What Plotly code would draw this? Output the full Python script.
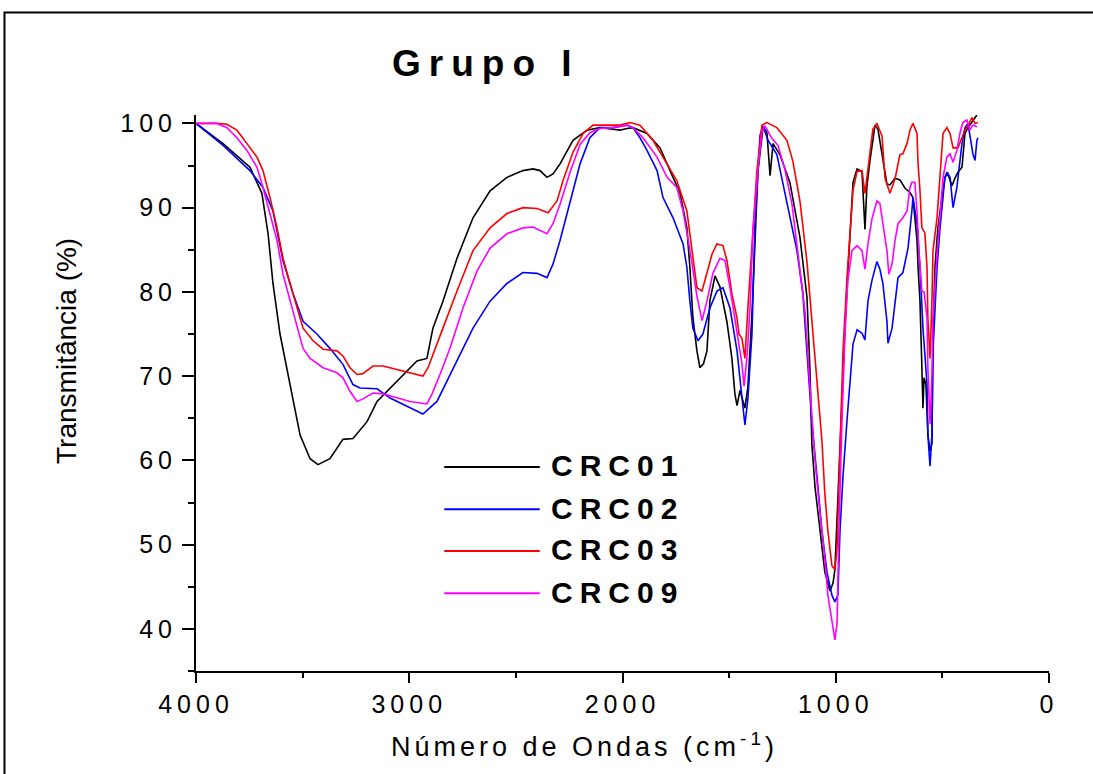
import plotly.graph_objects as go

# espectros FTIR (numero de onda cm-1, transmitancia %)
crc01 = [(4000, 100), (3873, 97.6), (3747, 94.8), (3691, 91.7), (3662, 86.9), (3639, 81), (3606, 75),
         (3559, 69), (3512, 63), (3465, 60.2), (3428, 59.5), (3372, 60.2), (3311, 62.5), (3264, 62.6),
         (3198, 64.6), (3151, 67), (3090, 68.6), (3011, 70.6), (2964, 71.8), (2917, 72.1), (2889, 75.7),
         (2842, 78.9), (2776, 84), (2701, 88.8), (2621, 92), (2542, 93.6), (2467, 94.4), (2420, 94.6),
         (2387, 94.4), (2354, 93.6), (2326, 94), (2293, 95.2), (2232, 98), (2167, 99.2), (2106, 99.5),
         (2073, 99.4), (2012, 99.2), (1979, 99.4), (1951, 99.5), (1885, 98.8), (1824, 97.1), (1777, 94.4),
         (1730, 91.7), (1698, 87.6), (1684, 82.9), (1670, 77), (1651, 73), (1637, 71), (1620, 71.5),
         (1604, 73), (1590, 79), (1566, 81.9), (1543, 80.6), (1510, 76.4), (1487, 72.1), (1473, 67.9),
         (1463, 66.5), (1449, 68.3), (1426, 66.2), (1412, 68.7), (1393, 77.3), (1379, 85.7), (1365, 94.3),
         (1341, 99.5), (1323, 99), (1308, 93.8), (1294, 97.6), (1262, 96.3), (1215, 93), (1168, 86.5),
         (1135, 79.4), (1121, 70.8), (1112, 61.9), (1097, 56.8), (1074, 51.7), (1051, 46.7), (1027, 44.5),
         (1013, 45.4), (1004, 47), (990, 56), (971, 68.7), (957, 75.5), (943, 82.4), (919, 93), (900, 94.6),
         (877, 94.3), (863, 87.4), (854, 92.5), (840, 95.5), (816, 99.8), (802, 99.3), (779, 95.5),
         (760, 92.8), (746, 92.7), (722, 93.5), (699, 93.3), (675, 92.3), (652, 91.8), (638, 91.2),
         (629, 88.8), (619, 86.1), (614, 82.9), (605, 78.9), (596, 71), (591, 66.2), (586, 69.8), (577, 69),
         (568, 63.1), (558, 61.1), (549, 62), (544, 75), (535, 82.9), (521, 87.6), (502, 91.2), (488, 93.6),
         (474, 94), (455, 92.6), (441, 93.5), (427, 94.2), (408, 94.8), (394, 98.8), (380, 99.5),
         (357, 100.4), (338, 101)]

crc02 = [(4000, 100), (3873, 97.4), (3747, 94.4), (3686, 92.4), (3639, 89.6), (3592, 83.7), (3545, 79.8),
         (3498, 76.5), (3433, 75), (3372, 73.3), (3311, 71.4), (3264, 69), (3231, 68.6), (3151, 68.5),
         (3090, 67.4), (3011, 66.4), (2936, 65.5), (2870, 67), (2823, 69.4), (2776, 71.8), (2701, 75.7),
         (2621, 78.9), (2542, 81), (2467, 82.3), (2401, 82.2), (2354, 81.7), (2326, 83.3), (2293, 86.1),
         (2246, 90.8), (2199, 95.2), (2153, 98.3), (2106, 99.5), (2045, 99.5), (1979, 99.8), (1951, 99.5),
         (1918, 98.3), (1885, 96.8), (1838, 94.4), (1810, 91.2), (1763, 88.8), (1716, 85.7), (1698, 82.9),
         (1684, 78.9), (1670, 75.7), (1646, 74.2), (1623, 75), (1590, 78.1), (1557, 80.1), (1529, 80.5),
         (1496, 78.1), (1463, 73), (1449, 69.8), (1435, 67), (1426, 64.2), (1412, 67.3), (1393, 75),
         (1379, 88), (1355, 98.6), (1341, 99.7), (1318, 98), (1276, 96.3), (1248, 93), (1215, 89.2),
         (1182, 84.9), (1154, 79.8), (1135, 73), (1112, 64.5), (1088, 58.1), (1065, 51.7), (1041, 46.7),
         (1018, 44), (1004, 43.2), (990, 44), (980, 51.7), (966, 58.1), (948, 64.5), (933, 69.5),
         (919, 73.8), (900, 75.5), (877, 75.1), (863, 74.3), (849, 78.9), (830, 81.4), (807, 83.6),
         (793, 82.7), (779, 81), (760, 76.5), (755, 73.9), (736, 75.7), (722, 78.9), (708, 81.7),
         (685, 82.3), (661, 85.2), (643, 89.6), (638, 91.2), (619, 88.1), (605, 82.9), (591, 75.7),
         (582, 73), (572, 69), (568, 63.1), (558, 59.3), (549, 63), (544, 73), (525, 82.9), (511, 87.6),
         (488, 93.6), (479, 94.2), (464, 93.6), (450, 90), (432, 92.4), (408, 97.6), (394, 99.5),
         (380, 100), (357, 96.4), (347, 95.6), (338, 98), (333, 98.3)]

crc03 = [(4000, 100), (3902, 100), (3855, 99.9), (3808, 99.2), (3761, 97.6), (3714, 96), (3686, 94.4),
         (3653, 91.2), (3620, 87.6), (3592, 84), (3559, 81), (3526, 78.1), (3498, 75.7), (3451, 74.2),
         (3404, 73.2), (3339, 73), (3311, 72.4), (3278, 71), (3245, 70.2), (3217, 70.3), (3170, 71.2),
         (3123, 71.2), (3058, 70.8), (2997, 70.4), (2936, 70), (2912, 71), (2889, 72.6), (2842, 75.7),
         (2776, 80.1), (2701, 84.9), (2621, 87.6), (2542, 89.3), (2467, 90), (2401, 89.9), (2349, 89.4),
         (2307, 90.8), (2279, 93.2), (2232, 96.6), (2185, 98.8), (2138, 99.8), (2059, 99.8), (2012, 99.8),
         (1965, 100.1), (1918, 99.8), (1857, 98), (1791, 95.2), (1745, 93.2), (1698, 89.6), (1674, 85),
         (1651, 80.5), (1627, 80.1), (1604, 82.1), (1580, 84.5), (1557, 85.7), (1529, 85.5), (1510, 83.7),
         (1487, 79.8), (1463, 76.9), (1454, 75), (1440, 74.5), (1426, 72.1), (1412, 78.1), (1393, 85.7),
         (1370, 94.3), (1346, 99.8), (1323, 100.1), (1276, 99.5), (1229, 98), (1201, 95.5), (1168, 90.8),
         (1135, 83.6), (1112, 76.4), (1088, 68.7), (1065, 62.4), (1051, 56), (1037, 51.7), (1018, 47.5),
         (1004, 47), (994, 49.6), (980, 60.2), (966, 73), (948, 81.4), (933, 86.5), (919, 92.1),
         (900, 94.3), (877, 94.4), (863, 91.7), (849, 94.6), (826, 99.3), (807, 100), (783, 98.5),
         (769, 93.5), (746, 91.7), (722, 93.4), (699, 96.3), (685, 96.4), (666, 97.6), (652, 99.2),
         (638, 100), (619, 98.8), (614, 95.2), (605, 92), (596, 87.6), (582, 87), (572, 82.9), (568, 76.9),
         (558, 72.1), (549, 78.9), (544, 84.9), (525, 88.8), (511, 93.6), (497, 98.8), (479, 99.5),
         (464, 98.8), (450, 97.1), (427, 97.1), (408, 98.3), (394, 99.2), (380, 99.8), (361, 100.7),
         (347, 100), (333, 100.1)]

crc09 = [(4000, 100), (3902, 100), (3855, 99.5), (3808, 98.3), (3761, 96.8), (3714, 94.8), (3686, 92.4),
         (3653, 89.3), (3620, 86.1), (3592, 82.1), (3559, 78.9), (3526, 75.7), (3498, 73.3), (3465, 72.1),
         (3404, 71), (3339, 70.4), (3311, 69.8), (3278, 68.2), (3245, 67), (3217, 67.3), (3170, 68),
         (3123, 67.9), (3058, 67.4), (2997, 67), (2917, 66.7), (2893, 67.9), (2856, 70.2), (2809, 73.3),
         (2748, 78.1), (2682, 82.5), (2621, 85.2), (2542, 86.9), (2467, 87.6), (2420, 87.7), (2354, 86.9),
         (2326, 88.1), (2293, 90.4), (2246, 94.2), (2199, 97.5), (2153, 98.9), (2106, 99.4), (2045, 99.5),
         (1979, 99.8), (1951, 99.5), (1904, 98.3), (1838, 96), (1791, 93.6), (1745, 92.4), (1716, 89.6),
         (1684, 85), (1651, 79.5), (1627, 76.6), (1604, 78.9), (1576, 82.2), (1543, 84), (1519, 83.7),
         (1496, 80.5), (1473, 76.7), (1458, 74), (1440, 71.5), (1430, 68.8), (1416, 72.3), (1402, 78.1),
         (1388, 87.4), (1365, 94.5), (1346, 99), (1332, 99.7), (1299, 98.2), (1271, 97.4), (1238, 94.5),
         (1205, 90.4), (1177, 84.8), (1144, 77.6), (1121, 68.7), (1098, 60.2), (1074, 53.8), (1051, 48.3),
         (1037, 44), (1018, 40.6), (1004, 38.7), (994, 40.6), (985, 51.7), (971, 64.5), (957, 75.1),
         (943, 81.4), (924, 84.9), (900, 85.5), (877, 84.9), (863, 82.7), (849, 85.7), (830, 88.7),
         (807, 90.8), (793, 90.5), (779, 88.1), (760, 84.9), (751, 82.1), (736, 83.3), (722, 86.1),
         (708, 88.1), (685, 88.8), (666, 89.6), (652, 92.4), (643, 93), (629, 93), (619, 89.6), (610, 84.9),
         (596, 80.1), (586, 80), (572, 76.9), (568, 71), (558, 64.3), (549, 70), (544, 76.9), (525, 84.5),
         (511, 89.6), (497, 93.6), (479, 96), (464, 96.4), (450, 95.4), (432, 96.8), (418, 98.8),
         (404, 100.1), (385, 100.4), (371, 99.2), (357, 99.8), (338, 99.6)]

amostras = ['CRC01', 'CRC02', 'CRC03', 'CRC09']
espectros = [crc01, crc02, crc03, crc09]
cores = ['#000000', '#0000FF', '#FF0000', '#FF00FF']

x_ticks = [4000, 3000, 2000, 1000, 0]
y_ticks = [40, 50, 60, 70, 80, 90, 100]

fonte = 'Liberation Sans, Arial, sans-serif'


def espaco(txt, px):
    # espacamento entre letras como no original
    return f'<span style="letter-spacing:{px}px">{txt}</span>'


fig = go.Figure()
for nome, dados, cor in zip(amostras, espectros, cores):
    fig.add_trace(go.Scatter(x=[p[0] for p in dados],
                             y=[p[1] for p in dados],
                             name=nome,
                             mode='lines',
                             line=dict(color=cor, width=1.6)))

# legenda desenhada a mao (linhas longas)
ly = [0.367, 0.291, 0.216, 0.140]
for nome, cor, y in zip(amostras, cores, ly):
    fig.add_shape(type='line', xref='paper', yref='paper', x0=0.291, x1=0.403, y0=y, y1=y,
                  line=dict(color=cor, width=2))
    fig.add_annotation(xref='paper', yref='paper', x=0.414, y=y + 0.002, xanchor='left', yanchor='middle',
                       text='<b>' + espaco(nome, 7) + '</b>', showarrow=False,
                       font=dict(family=fonte, size=30, color='black'))

# moldura externa
fig.add_shape(type='rect', xref='paper', yref='paper', x0=-0.2245, x1=1.06, y0=-0.2, y1=1.1844,
              line=dict(color='black', width=2))

fig.add_annotation(xref='paper', yref='paper', x=0.340, y=1.092, xanchor='center', yanchor='middle',
                   text='<b>' + espaco('Grupo I', 8) + '</b>', showarrow=False,
                   font=dict(family=fonte, size=37, color='black'))
fig.add_annotation(xref='paper', yref='paper', x=0.456, y=-0.133, xanchor='center', yanchor='middle',
                   text=espaco('Número de Ondas (cm<sup>-1</sup>)', 4), showarrow=False,
                   font=dict(family=fonte, size=27, color='black'))
fig.add_annotation(xref='paper', yref='paper', x=-0.151, y=0.576, xanchor='center', yanchor='middle',
                   text='Transmitância (%)', textangle=-90, showarrow=False,
                   font=dict(family=fonte, size=28, color='black'))

fig.update_xaxes(range=[4000, 0], tickvals=x_ticks, ticktext=[espaco(str(v), 5) for v in x_ticks],
                 showline=True, linecolor='black', linewidth=2, ticks='outside', ticklen=10, tickwidth=2,
                 tickcolor='black', showgrid=False, zeroline=False,
                 tickfont=dict(family=fonte, size=25, color='black'),
                 minor=dict(tickmode='linear', tick0=0, dtick=500, ticks='outside', ticklen=5,
                            tickwidth=2, tickcolor='black', showgrid=False))
fig.update_yaxes(range=[35, 101], tickvals=y_ticks, ticktext=[espaco(str(v), 5) for v in y_ticks],
                 showline=True, linecolor='black', linewidth=2, ticks='outside', ticklen=12, tickwidth=2,
                 tickcolor='black', showgrid=False, zeroline=False,
                 tickfont=dict(family=fonte, size=25, color='black'),
                 minor=dict(tickmode='linear', tick0=0, dtick=5, ticks='outside', ticklen=6,
                            tickwidth=2, tickcolor='black', showgrid=False))

fig.update_layout(width=1093, height=774, autosize=False,
                  margin=dict(l=196, r=44, t=115, b=103),
                  paper_bgcolor='white', plot_bgcolor='white',
                  showlegend=False)

fig.write_html("out.html", config={'displayModeBar': False},
               post_script="document.body.style.margin='0';")
